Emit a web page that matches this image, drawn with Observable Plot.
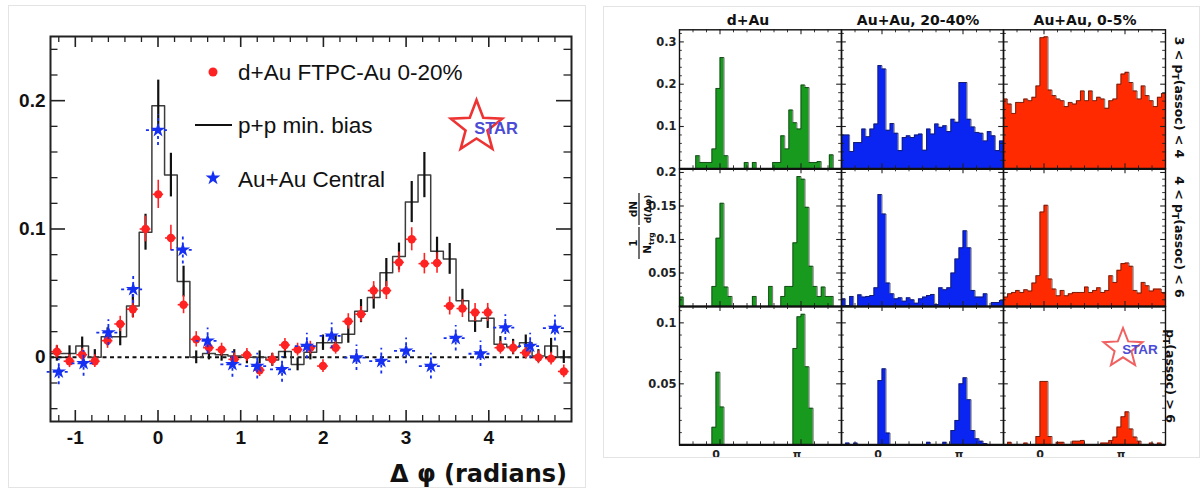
<!DOCTYPE html>
<html>
<head>
<meta charset="utf-8">
<script src="https://cdn.jsdelivr.net/npm/d3@7"></script>
<script src="https://cdn.jsdelivr.net/npm/@observablehq/plot@0.6"></script>
<style>
  body { margin: 0; background: #fff; }
  #page { position: relative; width: 1204px; height: 491px; overflow: hidden; background: #fff; }
  #page > svg { position: absolute; left: 0; top: 0; }
</style>
</head>
<body>
<div id="page"></div>
<script>
// ---------- Left panel: di-hadron azimuthal correlations ----------
// bin centres (radians) shared by the p+p histogram and the d+Au points
const phiBins = [-1.223,-1.070,-0.917,-0.764,-0.610,-0.457,-0.304,-0.151,0.003,0.156,0.309,0.462,0.616,0.769,0.922,1.075,1.229,1.382,1.535,1.688,1.842,1.995,2.148,2.301,2.455,2.608,2.761,2.914,3.068,3.221,3.374,3.527,3.681,3.834,3.987,4.140,4.294,4.447,4.600,4.753,4.907];

// p+p minimum bias
const ppYield = [0.003,0.003,0.0088,0.0,0.016,0.016,0.040,0.0975,0.196,0.142,0.059,0.0,0.003,0.002,0.001,0.0,0.0,-0.002,0.0045,-0.0055,0.004,0.0114,0.0114,0.018,0.036,0.0466,0.066,0.0785,0.121,0.142,0.0826,0.0767,0.044,0.0284,0.0305,0.0102,0.008,0.0114,0.001,0.0088,0.0002];
const ppErr = [0.006,0.006,0.007,0.006,0.007,0.007,0.009,0.014,0.020,0.017,0.012,0.005,0.005,0.005,0.005,0.005,0.005,0.005,0.005,0.005,0.006,0.006,0.006,0.007,0.009,0.009,0.011,0.0105,0.016,0.0176,0.011,0.012,0.009,0.009,0.008,0.006,0.006,0.006,0.005,0.006,0.005];

// d+Au FTPC-Au 0-20%
const dAuYield = [0.0044,-0.003,0.002,-0.003,0.013,0.026,0.0375,0.100,0.127,0.093,0.041,0.014,0.0075,0.006,-0.0016,0.0018,-0.010,-0.0016,0.0096,0.006,0.0075,-0.0068,0.0075,0.028,0.0336,0.052,0.052,0.074,0.092,0.073,0.0735,0.040,0.038,0.035,0.035,0.0075,0.0075,0.0036,0.0,-0.001,-0.011];
const dAuErr = [0.005,0.005,0.005,0.005,0.006,0.006,0.007,0.010,0.011,0.010,0.007,0.006,0.005,0.005,0.005,0.005,0.005,0.005,0.005,0.005,0.005,0.005,0.005,0.006,0.006,0.007,0.007,0.008,0.009,0.008,0.008,0.007,0.007,0.007,0.007,0.005,0.005,0.005,0.005,0.005,0.005];

// Au+Au central
const auauPhi = [-1.2,-0.9,-0.6,-0.3,0,0.3,0.6,0.9,1.2,1.5,1.8,2.1,2.4,2.7,3.0,3.3,3.6,3.9,4.2,4.5,4.8];
const auauYield = [-0.0113,-0.0047,0.0193,0.053,0.177,0.0837,0.0128,-0.0055,-0.0068,-0.0094,0.0088,0.0167,-0.0003,-0.003,0.005,-0.0068,0.0149,0.0028,0.0232,0.0088,0.0227];
const auauErr = [0.010,0.010,0.010,0.011,0.012,0.011,0.010,0.010,0.010,0.010,0.010,0.010,0.010,0.010,0.010,0.010,0.010,0.010,0.010,0.010,0.010];

const leftXTicks = [-1, 0, 1, 2, 3, 4];
const leftYTicks = [0, 0.1, 0.2];

// ---------- Right panel: 3x3 grid of per-trigger yields ----------
const systems = ["d+Au", "Au+Au, 20-40%", "Au+Au, 0-5%"];
const ptBins = ["3 < p_T(assoc) < 4", "4 < p_T(assoc) < 6", "p_T(assoc) > 6"];

// 40 bins of width pi/20 from -pi/2 to 3pi/2
const dAu_3to4 = [0,0,0,0,0.031,0.015,0.015,0.015,0.047,0.190,0.263,0.031,0,0,0,0,0.015,0,0.015,0,0,0,0,0.015,0.015,0.078,0.047,0.139,0.109,0.094,0.198,0.192,0.015,0.015,0.017,0,0,0.033,0,0];
const mid_3to4 = [0.080,0.080,0.041,0.062,0.062,0.094,0.076,0.094,0.106,0.244,0.236,0.091,0.107,0.084,0.043,0.074,0.078,0.074,0.080,0.082,0.044,0.094,0.082,0.106,0.098,0.102,0.088,0.117,0.110,0.204,0.204,0.117,0.099,0.086,0.084,0.066,0.088,0.078,0.043,0.066];
const cen_3to4 = [0.165,0.153,0.131,0.157,0.157,0.165,0.161,0.169,0.196,0.310,0.312,0.186,0.173,0.165,0.161,0.147,0.157,0.153,0.161,0.184,0.161,0.184,0.161,0.169,0.165,0.143,0.161,0.165,0.200,0.224,0.228,0.204,0.184,0.165,0.196,0.173,0.161,0.147,0.169,0.178];

const dAu_4to6 = [0.014,0,0,0,0,0,0,0,0.030,0.102,0.154,0.029,0.015,0,0,0,0,0,0.015,0,0,0,0.030,0,0,0.015,0.030,0.030,0.095,0.194,0.190,0.148,0.060,0.030,0.015,0.029,0.015,0.015,0,0];
const mid_4to6 = [0.0114,0.0015,0.015,0,0.0174,0.014,0.015,0.0164,0.028,0.167,0.138,0.035,0.019,0.0114,0.013,0.008,0.013,0.010,0.005,0.0114,0.014,0.0164,0.018,0.003,0.028,0.025,0.028,0.050,0.071,0.0876,0.113,0.0876,0.024,0.014,0.014,0.019,0,0.006,0.006,0.009];
const cen_4to6 = [0.014,0.019,0.021,0.024,0.021,0.025,0.023,0.035,0.046,0.141,0.151,0.041,0.026,0.016,0.024,0.016,0.019,0.021,0.021,0.021,0.029,0.021,0.024,0.028,0.021,0.024,0.046,0.036,0.054,0.064,0.065,0.060,0.024,0.020,0.036,0.031,0.023,0.026,0.026,0.021];

const dAu_6up = [0,0,0,0,0,0,0,0,0.0144,0.0595,0.031,0,0,0,0,0,0,0,0,0,0,0,0,0,0,0,0,0,0.079,0.105,0.107,0.064,0.030,0,0,0,0,0,0,0];
const mid_6up = [0,0.0014,0,0.0014,0,0,0,0,0,0.0527,0.0623,0.0096,0,0,0,0,0,0,0,0,0,0.002,0,0,0,0.002,0,0.0117,0.020,0.050,0.055,0.037,0.0117,0.005,0.003,0.001,0,0,0,0];
const cen_6up = [0,0.002,0,0,0,0.0014,0,0,0.0068,0.052,0.052,0.0068,0,0.002,0.002,0,0,0.003,0.003,0.0036,0,0,0,0,0.0014,0.0014,0.0036,0.0063,0.0145,0.023,0.027,0.013,0.0063,0.003,0,0,0.0014,0,0.0014,0];

const rowTicks = [[0.1, 0.2, 0.3], [0.05, 0.1, 0.15, 0.2], [0.05, 0.1]];

// ---------- drawing ----------
const page = document.getElementById("page");
const sans = "Liberation Sans, Arial, Helvetica, sans-serif";
const wide = "DejaVu Sans, Verdana, sans-serif";

// left panel geometry
const L = {width: 590, height: 491, ml: 50, mr: 19, mt: 36, mb: 70};
const LFW = L.width - L.ml - L.mr, LFH = L.height - L.mt - L.mb;
const half = 0.0766;

const ppRows = phiBins.map((x, i) => ({x, y: ppYield[i], e: ppErr[i]}));
const ppStep = ppRows.flatMap(d => [{x: d.x - half, y: d.y}, {x: d.x + half, y: d.y}]);
const dAuRows = phiBins.map((x, i) => ({x, y: dAuYield[i], e: dAuErr[i]}));
const auRows = auauPhi.map((x, i) => ({x, y: auauYield[i], e: auauErr[i]}));

const near = (v, arr) => arr.some(a => Math.abs(a - v) < 1e-6);
const lxMinor = d3.range(-12, 49, 2).map(k => k / 10).filter(v => !near(v, leftXTicks));
const lyMinor = d3.range(-4, 25, 2).map(k => k / 100).filter(v => !near(v, leftYTicks));

function inTicksX(vals, len, w, FH) {
  return [
    Plot.ruleX(vals, {stroke: "#222", strokeWidth: w, insetTop: FH - len}),
    Plot.ruleX(vals, {stroke: "#222", strokeWidth: w, insetBottom: FH - len})
  ];
}
function inTicksY(vals, len, w, FW) {
  return [
    Plot.ruleY(vals, {stroke: "#222", strokeWidth: w, insetRight: FW - len}),
    Plot.ruleY(vals, {stroke: "#222", strokeWidth: w, insetLeft: FW - len})
  ];
}

const red = "#ff2222", blue = "#1530f2";

const leftPlot = Plot.plot({
  width: L.width, height: L.height,
  marginLeft: L.ml, marginRight: L.mr, marginTop: L.mt, marginBottom: L.mb,
  x: {domain: [-1.3, 5.0], axis: null},
  y: {domain: [-0.05, 0.25], axis: null},
  style: {background: "transparent", fontFamily: sans, color: "#111"},
  marks: [
    ...inTicksX(leftXTicks, 11, 1.6, LFH),
    ...inTicksX(lxMinor, 6, 1.3, LFH),
    ...inTicksY(leftYTicks, 15, 1.6, LFW),
    ...inTicksY(lyMinor, 7.5, 1.3, LFW),
    Plot.ruleY([0], {stroke: "#111", strokeWidth: 2, strokeDasharray: "4,3.5"}),
    Plot.line(ppStep, {x: "x", y: "y", stroke: "#3c3c3c", strokeWidth: 1.5}),
    Plot.ruleX(ppRows, {x: "x", y1: d => d.y - d.e, y2: d => d.y + d.e, stroke: "#111", strokeWidth: 2.2}),
    Plot.ruleY(dAuRows, {y: "y", x1: d => d.x - 0.065, x2: d => d.x + 0.065, stroke: red, strokeWidth: 1.6}),
    Plot.ruleX(dAuRows, {x: "x", y1: d => d.y - d.e, y2: d => d.y + d.e, stroke: red, strokeWidth: 1.6}),
    Plot.dot(dAuRows, {x: "x", y: "y", r: 4.2, fill: red, stroke: "none"}),
    Plot.ruleY(auRows, {y: "y", x1: d => d.x - 0.14, x2: d => d.x + 0.14, stroke: blue, strokeWidth: 1.8, strokeDasharray: "3,3"}),
    Plot.ruleX(auRows, {x: "x", y1: d => d.y - d.e, y2: d => d.y + d.e, stroke: blue, strokeWidth: 1.8, strokeDasharray: "3,3"}),
    Plot.dot(auRows, {x: "x", y: "y", symbol: "star", r: 4.6, fill: blue, stroke: "none"}),
    Plot.frame({stroke: "#222", strokeWidth: 2}),
    Plot.axisX({ticks: leftXTicks, label: null, tickSize: 0, tickPadding: 9, tickFormat: d => String(d), fontSize: 19, fontWeight: "bold", fill: "#111"}),
    Plot.axisY({ticks: leftYTicks, label: null, tickSize: 0, tickPadding: 5, tickFormat: d => d === 0 ? "0" : d.toFixed(1), fontSize: 19, fontWeight: "bold", fill: "#111"})
  ]
});
page.appendChild(leftPlot);

// right panel geometry
const R = {left: 600, width: 600, ml: 79, innerW: 486.5};
const colW = R.innerW / 3;
const rows = [
  {top: 29.3, bottom: 168.3, ymax: 0.3286, minor: 0.02, data: [dAu_3to4, mid_3to4, cen_3to4]},
  {top: 168.3, bottom: 306, ymax: 0.2055, minor: 0.01, data: [dAu_4to6, mid_4to6, cen_4to6]},
  {top: 306, bottom: 444.3, ymax: 0.1134, minor: 0.01, data: [dAu_6up, mid_6up, cen_6up]}
];
const sysFill = ["#179a1d", "#0a24f2", "#ff2a00"];
const binW = Math.PI / 20;
const xLo = -Math.PI / 2, xHi = 3 * Math.PI / 2;
const xMinorR = d3.range(-3, 10).map(k => k * Math.PI / 6).filter(v => !near(v, [0, Math.PI]));

function stepPoints(sys, vals) {
  return vals.flatMap((v, j) => [
    {sys, x: xLo + j * binW, y: v},
    {sys, x: xLo + (j + 1) * binW, y: v}
  ]);
}

rows.forEach((row, r) => {
  const FH = row.bottom - row.top;
  const major = rowTicks[r];
  const minor = d3.range(1, Math.floor(row.ymax / row.minor + 1e-6) + 1)
    .map(k => +(k * row.minor).toFixed(4)).filter(v => !near(v, major));
  const marks = [];
  systems.forEach((s, c) => {
    const pts = stepPoints(s, row.data[c]);
    // explicit y1/y2 so that the coincident bin edges are not stacked
    marks.push(Plot.areaY(pts, {x: "x", y1: 0, y2: "y", fx: "sys", fill: sysFill[c]}));
    marks.push(Plot.line(pts, {x: "x", y: "y", fx: "sys", stroke: "#1a1a1a", strokeWidth: 0.7, strokeOpacity: 0.85}));
  });
  marks.push(
    ...inTicksY(major, 5, 1.1, colW),
    ...inTicksY(minor, 3, 0.9, colW),
    ...inTicksX([0, Math.PI], 5, 1.1, FH),
    ...inTicksX(xMinorR, 3, 0.9, FH),
    Plot.frame({stroke: "#111", strokeWidth: 1.4}),
    Plot.ruleY([0], {stroke: "#111", strokeWidth: 2.2}),
    Plot.axisY({ticks: major, label: null, tickSize: 0, tickPadding: 3, tickFormat: d => String(d), fontSize: 11.5, fontWeight: "bold", fontFamily: wide, fill: "#222"})
  );
  if (r === 2) {
    marks.push(Plot.axisX({ticks: [0, Math.PI], label: null, tickSize: 0, tickPadding: 5, dx: -4, tickFormat: d => d === 0 ? "0" : "π", fontSize: 11, fontWeight: "bold", fontFamily: wide, fill: "#222"}));
  }
  const p = Plot.plot({
    width: R.width, height: 491,
    marginLeft: R.ml, marginRight: R.width - R.ml - R.innerW,
    marginTop: row.top, marginBottom: 491 - row.bottom,
    fx: {domain: systems, padding: 0, axis: null},
    x: {domain: [xLo, xHi], axis: null},
    y: {domain: [0, row.ymax], axis: null},
    style: {background: "transparent", fontFamily: wide, color: "#111"},
    marks
  });
  p.style.left = R.left + "px";
  page.appendChild(p);
});

// ---------- annotations: legend, logos, titles ----------
function starPath(cx, cy, ro, ri) {
  const pts = d3.range(10).map(k => {
    const a = -Math.PI / 2 + k * Math.PI / 5, rr = k % 2 ? ri : ro;
    return [cx + rr * Math.cos(a), cy + rr * Math.sin(a)];
  });
  return "M" + pts.map(p => p.join(",")).join("L") + "Z";
}
const legendStar = d3.symbol(d3.symbolStar, 68)();

const ns = "http://www.w3.org/2000/svg";
const ov = document.createElementNS(ns, "svg");
ov.setAttribute("width", 1204);
ov.setAttribute("height", 491);
ov.innerHTML = `
  <rect x="8.5" y="5.5" width="577" height="482" fill="none" stroke="#e4e4e4" stroke-width="1"/>
  <rect x="603.5" y="6.5" width="596" height="451" fill="none" stroke="#e4e4e4" stroke-width="1"/>

  <g font-family="${sans}" font-size="22.5" fill="#111">
    <circle cx="213" cy="72" r="4.5" fill="${red}"/>
    <text x="238" y="80">d+Au FTPC-Au 0-20%</text>
    <line x1="195" x2="232" y1="125" y2="125" stroke="#111" stroke-width="2"/>
    <text x="238" y="133">p+p min. bias</text>
    <path d="${legendStar}" transform="translate(213,178)" fill="${blue}"/>
    <text x="238" y="186.5">Au+Au Central</text>
  </g>

  <path d="${starPath(476.5, 127, 27, 11.5)}" fill="none" stroke="#ee3333" stroke-width="2.6" stroke-linejoin="miter"/>
  <text x="496" y="134" text-anchor="middle" font-family="${sans}" font-weight="bold" font-size="16.5" fill="#4b4bd6">STAR</text>

  <text x="567" y="482" text-anchor="end" font-family="${wide}" font-weight="bold" font-size="24" fill="#111">Δ φ (radians)</text>

  <g font-family="${wide}" font-weight="bold" font-size="14" fill="#111" text-anchor="middle">
    <text x="748" y="25">d+Au</text>
    <text x="918" y="25">Au+Au, 20-40%</text>
    <text x="1085" y="25">Au+Au, 0-5%</text>
  </g>

  <g font-family="${wide}" font-weight="bold" font-size="12.5" fill="#111" text-anchor="middle">
    <text transform="translate(1175,97.5) rotate(90)">3 &lt; p<tspan font-size="9" dy="3">T</tspan><tspan dy="-3">(assoc) &lt; 4</tspan></text>
    <text transform="translate(1175,237) rotate(90)">4 &lt; p<tspan font-size="9" dy="3">T</tspan><tspan dy="-3">(assoc) &lt; 6</tspan></text>
    <text transform="translate(1166,376) rotate(90)">p<tspan font-size="9" dy="3">T</tspan><tspan dy="-3">(assoc) &gt; 6</tspan></text>
  </g>

  <g transform="translate(639,226) rotate(-90)" font-family="${wide}" font-weight="bold" font-size="10.5" fill="#111" text-anchor="middle">
    <text x="-17" y="-2.5">1</text>
    <line x1="-33" x2="-1" y1="0" y2="0" stroke="#111" stroke-width="1.2"/>
    <text x="-17" y="12">N<tspan font-size="7.5" dy="2.5">trg</tspan></text>
    <text x="17" y="-2.5">dN</text>
    <line x1="1" x2="33" y1="0" y2="0" stroke="#111" stroke-width="1.2"/>
    <text x="17" y="12" font-size="9">d(Δφ)</text>
  </g>

  <path d="${starPath(1123, 348.5, 20.5, 8.8)}" fill="none" stroke="#ee4444" stroke-width="2" stroke-opacity="0.85"/>
  <text x="1140" y="354" text-anchor="middle" font-family="${sans}" font-weight="bold" font-size="13.5" fill="#4b4bd6">STAR</text>
`;
page.appendChild(ov);
</script>
</body>
</html>
